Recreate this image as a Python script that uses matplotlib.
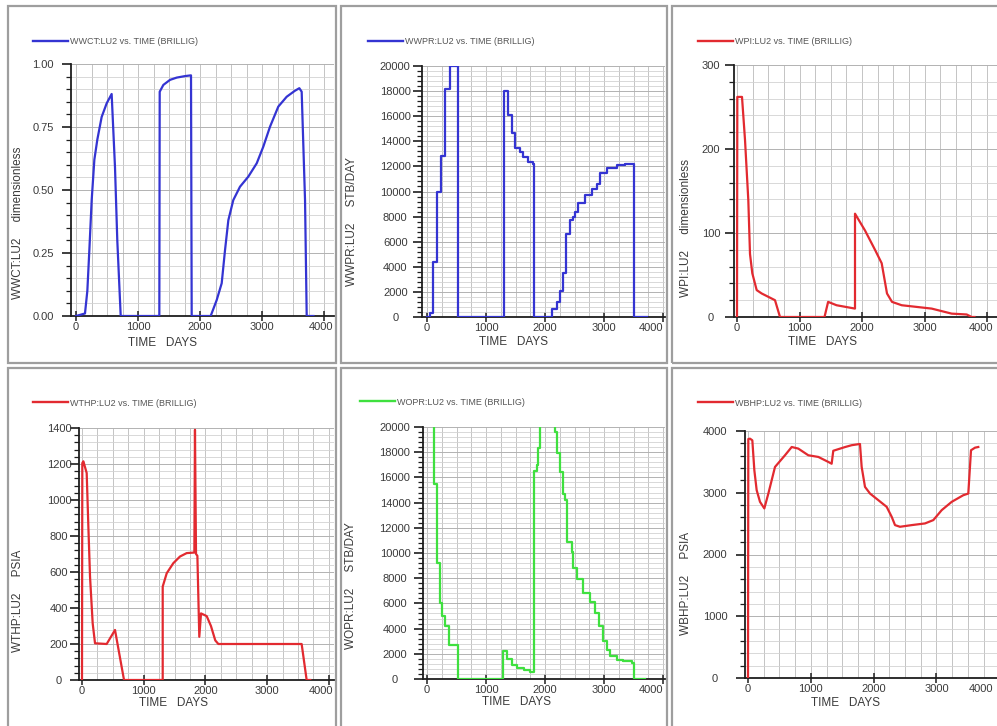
#!/usr/bin/env python3
import matplotlib
matplotlib.use("Agg")
import matplotlib.pyplot as plt
from matplotlib.lines import Line2D
from matplotlib.patches import Rectangle
from matplotlib.ticker import FixedLocator, FormatStrFormatter, MultipleLocator

W, H = 997, 726
PT = 0.72  # points per pixel at dpi 100

BLUE = "#3434d2"
RED = "#e22a30"
GREEN = "#3fe03f"

# water cut, dimensionless
wwct_days = [0, 145, 183, 215, 253, 296, 344, 414, 495, 575, 629, 666, 721,
             1344, 1350, 1409, 1516, 1624, 1758, 1855, 1866,
             2172, 2269, 2350, 2403, 2457, 2537, 2645, 2779, 2915, 3021, 3129,
             3263, 3398, 3532, 3602, 3640, 3694, 3721, 3830]
wwct = [0.0, 0.01, 0.10, 0.26, 0.46, 0.62, 0.70, 0.79, 0.844, 0.881, 0.59, 0.30, 0.0,
        0.0, 0.89, 0.917, 0.937, 0.946, 0.952, 0.955, 0.0,
        0.0, 0.063, 0.13, 0.26, 0.38, 0.46, 0.513, 0.553, 0.606, 0.672, 0.751,
        0.831, 0.870, 0.894, 0.904, 0.89, 0.46, 0.0, 0.0]

# water production rate, STB/DAY (report steps)
wwpr_days = [0, 51, 107, 175, 237, 305, 390, 531,
             1305, 1378, 1435, 1491, 1576, 1633, 1718, 1802, 1814,
             2113, 2198, 2254, 2311, 2356, 2424, 2469, 2508, 2565, 2678, 2791,
             2876, 2932, 3045, 3215, 3356, 3508, 3723]
wwpr = [0, 300, 4400, 10000, 12800, 18200, 20000, 0,
        18000, 16100, 14700, 13500, 13150, 12750, 12350, 12200, 0,
        600, 1200, 2100, 3500, 6600, 7700, 8000, 8400, 9100, 9700, 10200,
        10600, 11500, 11900, 12100, 12200, 0, 0]

# productivity index, dimensionless
wpi_days = [0, 5, 80, 128, 181, 208, 245, 315, 395, 608, 688,
            1400, 1458, 1593, 1888, 1888, 2048, 2208, 2315, 2400, 2480, 2635,
            3115, 3435, 3675, 3755, 3800]
wpi = [0, 262, 262, 211, 139, 75, 52, 32, 28, 20, 0,
       0, 18, 14, 10, 123, 103, 80, 64, 28, 18, 14,
       10, 4, 3, 0, 0]

# tubing head pressure, PSIA
wthp_days = [0, 5, 22, 76, 103, 130, 173, 211, 400, 535, 681,
             1308, 1308, 1373, 1480, 1588, 1697, 1821, 1831, 1848, 1870,
             1901, 1929, 2021, 2090, 2160, 2210, 3560, 3641, 3700]
wthp = [0, 1205, 1215, 1150, 853, 575, 315, 204, 200, 278, 0,
        0, 519, 593, 649, 686, 705, 708, 1390, 700, 690,
        240, 370, 355, 300, 220, 200, 200, 0, 0]

# oil production rate, STB/DAY (report steps)
wopr_days = [0, 119, 175, 222, 260, 305, 370, 531,
             1294, 1350, 1435, 1520, 1650, 1746, 1814, 1859, 1887, 1915,
             2169, 2198, 2254, 2311, 2339, 2379, 2452, 2480, 2537, 2650, 2763,
             2847, 2921, 2989, 3045, 3102, 3215, 3328, 3469, 3508, 3700]
wopr = [24000, 15500, 9200, 6000, 5000, 4200, 2700, 0,
        2200, 1600, 1150, 850, 700, 550, 16500, 17000, 18300, 24000,
        19600, 17900, 16400, 14700, 14200, 10900, 10100, 8800, 7900, 6800, 6100,
        5200, 4200, 3000, 2300, 1800, 1500, 1400, 1300, 0, 0]

# bottom hole pressure, PSIA
wbhp_days = [0, 5, 32, 69, 101, 138, 191, 260, 324, 430, 589, 696, 801, 960,
             1120, 1279, 1332, 1358, 1545, 1651, 1783, 1810, 1863, 1943, 2075,
             2208, 2288, 2341, 2420, 2607, 2818, 2951, 3084, 3244, 3428, 3508,
             3551, 3615, 3667]
wbhp = [0, 3870, 3876, 3849, 3365, 3042, 2853, 2746, 2987, 3418, 3607, 3741, 3715, 3607,
        3580, 3499, 3470, 3680, 3740, 3770, 3790, 3418, 3095, 2987, 2880,
        2772, 2611, 2476, 2449, 2476, 2503, 2557, 2718, 2853, 2960, 2987,
        3688, 3730, 3741]

X_TICKS = [0, 1000, 2000, 3000, 4000]
X_TICK_LABELS = ["0", "1000", "2000", "3000", "4000"]

# pixel layout of each window: axes box (l, t, r, b), pixel of day 0, pixels per 1000 days
PANELS = [
    dict(days=wwct_days, values=wwct, steps=False, color=BLUE,
         legend="WWCT:LU2 vs. TIME (BRILLIG)", ylabel="WWCT:LU2     dimensionless",
         ymax=1.0, ymajor=0.25, yminor=0.05, yfmt="%.2f",
         box=(71, 64, 334, 316), x0=76, ppk=62.0, last_right=333, ygap=27.7,
         ylab=(18, 223), xlab=(163, 343), leg=(33, 42), frame=(8, 6, 336, 363)),
    dict(days=wwpr_days, values=wwpr, steps=True, color=BLUE,
         legend="WWPR:LU2 vs. TIME (BRILLIG)", ylabel="WWPR:LU2     STB/DAY",
         ymax=20000, ymajor=2000, yminor=400, yfmt="%d",
         box=(422, 66, 665, 317), x0=427, ppk=59.0, last_right=663, ygap=26.7,
         ylab=(352, 221), xlab=(513, 342), leg=(368, 42), frame=(341, 6, 667, 363)),
    dict(days=wpi_days, values=wpi, steps=False, color=RED,
         legend="WPI:LU2 vs. TIME (BRILLIG)", ylabel="WPI:LU2     dimensionless",
         ymax=300, ymajor=100, yminor=20, yfmt="%d",
         box=(734, 65, 1000, 317), x0=737, ppk=62.5, last_right=993, ygap=23,
         ylab=(686, 228), xlab=(822, 342), leg=(698, 42), frame=(672, 6, 1010, 363)),
    dict(days=wthp_days, values=wthp, steps=False, color=RED,
         legend="WTHP:LU2 vs. TIME (BRILLIG)", ylabel="WTHP:LU2     PSIA",
         ymax=1400, ymajor=200, yminor=40, yfmt="%d",
         box=(79, 428, 334, 680), x0=82, ppk=61.7, last_right=333, ygap=20,
         ylab=(18, 601), xlab=(173, 703), leg=(33, 403), frame=(8, 368, 336, 740)),
    dict(days=wopr_days, values=wopr, steps=True, color=GREEN,
         legend="WOPR:LU2 vs. TIME (BRILLIG)", ylabel="WOPR:LU2     STB/DAY",
         ymax=20000, ymajor=2000, yminor=400, yfmt="%d",
         box=(423, 427, 665, 679), x0=427, ppk=59.0, last_right=663, ygap=28,
         ylab=(351, 586), xlab=(517, 702), leg=(360, 402), frame=(341, 368, 667, 740)),
    dict(days=wbhp_days, values=wbhp, steps=False, color=RED,
         legend="WBHP:LU2 vs. TIME (BRILLIG)", ylabel="WBHP:LU2     PSIA",
         ymax=4000, ymajor=1000, yminor=200, yfmt="%d",
         box=(745, 431, 1000, 678), x0=748, ppk=62.8, last_right=993, ygap=30,
         ylab=(686, 583), xlab=(845, 703), leg=(698, 403), frame=(672, 368, 1010, 740)),
]

TEXT = "#3a3a3a"
AXIS = "#1e1e1e"


def fx(px):
    return px / W


def fy(py):
    return 1 - py / H


def draw_panel(fig, p):
    fl, ft, fr, fb = p["frame"]
    fig.add_artist(Rectangle((fx(fl), fy(fb)), fx(fr - fl), (fb - ft) / H,
                             transform=fig.transFigure, fill=False,
                             ec="#9e9e9e", lw=1.6, zorder=0))

    l, t, r, b = p["box"]
    ax = fig.add_axes([fx(l), fy(b), fx(r - l), (b - t) / H])
    ds = "steps-post" if p["steps"] else "default"
    ax.plot(p["days"], p["values"], color=p["color"], lw=1.6,
            drawstyle=ds, zorder=3)

    ax.set_xlim((l - p["x0"]) / p["ppk"] * 1000, (r - p["x0"]) / p["ppk"] * 1000)
    ax.set_ylim(0, p["ymax"])

    for s in ("top", "right"):
        ax.spines[s].set_visible(False)
    for s in ("left", "bottom"):
        ax.spines[s].set_color(AXIS)
        ax.spines[s].set_linewidth(1.3)

    ax.xaxis.set_major_locator(FixedLocator(X_TICKS))
    ax.xaxis.set_minor_locator(MultipleLocator(250))
    ax.set_xticklabels(X_TICK_LABELS[:-1] + [""])
    ax.yaxis.set_major_locator(MultipleLocator(p["ymajor"]))
    ax.yaxis.set_minor_locator(MultipleLocator(p["yminor"]))
    ax.yaxis.set_major_formatter(FormatStrFormatter(p["yfmt"]))

    ax.tick_params(axis="x", which="major", direction="inout", length=7.2,
                   width=1.1, pad=0.5, labelsize=8, color=AXIS, labelcolor=TEXT)
    ax.tick_params(axis="x", which="minor", length=0)
    ax.tick_params(axis="y", which="major", direction="out", length=6.5,
                   width=1.2, pad=(p["ygap"] - 9) * PT, labelsize=8,
                   color=AXIS, labelcolor=TEXT)
    ax.tick_params(axis="y", which="minor", direction="out", length=3.6,
                   width=0.9, color=AXIS)
    for lab in ax.get_yticklabels():
        lab.set_horizontalalignment("center")

    # the last day label is pulled inside the window edge
    ax.annotate(X_TICK_LABELS[-1], xy=(1, 0), xycoords="axes fraction",
                xytext=((p["last_right"] - r) * PT, -(0.5 + 3.6)),
                textcoords="offset points", ha="right", va="top",
                fontsize=8, color=TEXT)

    ax.grid(axis="x", which="both", color="#c4c4c4", lw=0.7)
    ax.grid(axis="y", which="minor", color="#d2d2d2", lw=0.6)
    ax.grid(axis="y", which="major", color="#b2b2b2", lw=0.7)
    ax.set_axisbelow(True)

    lx, ly = p["leg"]
    handle = Line2D([], [], color=p["color"], lw=1.7)
    ax.legend([handle], [p["legend"]], loc="center left",
              bbox_to_anchor=(fx(lx), fy(ly)), bbox_transform=fig.transFigure,
              frameon=False, fontsize=6.5, handlelength=3.9, handletextpad=0.25,
              borderpad=0, borderaxespad=0, labelcolor="#555555")

    yx, yy = p["ylab"]
    fig.text(fx(yx), fy(yy), p["ylabel"], rotation=90, ha="center",
             va="center", fontsize=8.5, color=TEXT)
    xx, xy = p["xlab"]
    fig.text(fx(xx), fy(xy), "TIME   DAYS", ha="center", va="center",
             fontsize=8.5, color=TEXT)
    return ax


def main():
    plt.rcParams["font.family"] = ["Liberation Sans", "DejaVu Sans"]
    fig = plt.figure(figsize=(W / 100, H / 100), dpi=100)
    fig.patch.set_facecolor("white")
    for p in PANELS:
        assert len(p["days"]) == len(p["values"])
        draw_panel(fig, p)
    fig.savefig("out.png", dpi=100)
    plt.close(fig)


if __name__ == "__main__":
    main()
